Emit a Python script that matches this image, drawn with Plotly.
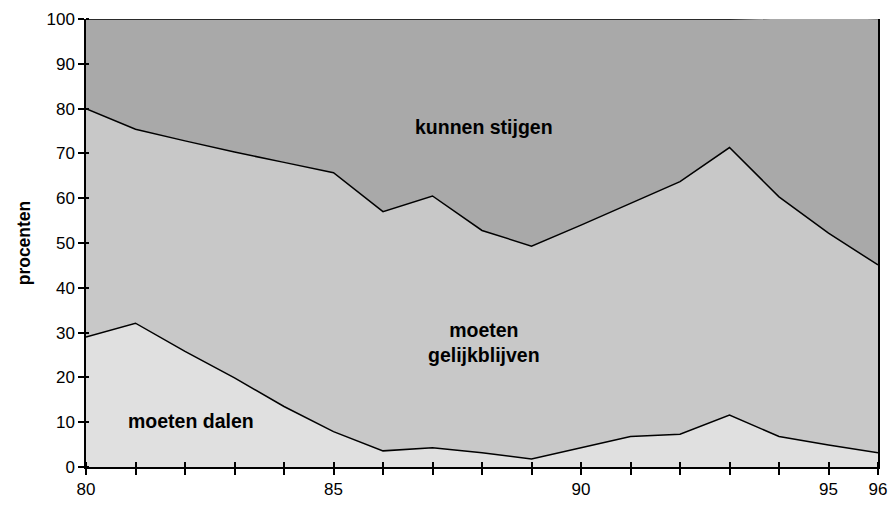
import plotly.graph_objects as go

years = list(range(80, 97))
moeten_dalen = [29.0, 32.1, 25.8, 19.9, 13.5, 7.9, 3.6, 4.3, 3.2, 1.8, 4.3, 6.8, 7.3, 11.6, 6.8, 4.9, 3.2]
moeten_gelijkblijven = [51.0, 43.3, 47.0, 50.4, 54.5, 57.8, 53.4, 56.2, 49.6, 47.5, 49.7, 52.0, 56.4, 59.7, 53.5, 47.3, 41.9]
kunnen_stijgen = [20.0, 24.6, 27.2, 29.7, 32.0, 34.3, 43.0, 39.5, 47.2, 50.7, 46.0, 41.2, 36.3, 28.7, 39.9, 48.2, 55.0]

tick_years = list(range(80, 97))
tick_labels = ["80", "", "", "", "", "85", "", "", "", "", "90", "", "", "", "", "95", "96"]
y_ticks = list(range(0, 101, 10))

FONT = "Liberation Sans, Arial, sans-serif"
EPS = 1e-4  # tiny shift so inside (minor) ticks are not merged with the outside ones

fig = go.Figure()
series = [
    ("moeten dalen", moeten_dalen, "#e0e0e0"),
    ("moeten gelijkblijven", moeten_gelijkblijven, "#c8c8c8"),
    ("kunnen stijgen", kunnen_stijgen, "#a9a9a9"),
]
for name, vals, col in series:
    fig.add_trace(go.Scatter(
        x=years, y=vals, name=name, mode="lines", stackgroup="one",
        line=dict(color="black", width=1.5), fillcolor=col,
        hoverinfo="skip",
    ))

fig.update_layout(
    width=893, height=505,
    margin=dict(l=86, r=15, t=19, b=38, autoexpand=False),
    paper_bgcolor="white", plot_bgcolor="white",
    showlegend=False,
    font=dict(family=FONT, size=17, color="black"),
    xaxis=dict(range=[80, 96], tickvals=tick_years, ticktext=tick_labels,
               ticks="outside", ticklen=6, tickwidth=1.5, tickcolor="black",
               minor=dict(tickmode="array", tickvals=[v + EPS for v in tick_years],
                          ticks="inside", ticklen=5, tickwidth=1.5, tickcolor="black"),
               showline=True, linecolor="black", linewidth=1.5, layer="above traces",
               showgrid=False, zeroline=False, tickfont=dict(size=17), automargin=False,
               ticklabeloverflow="allow"),
    yaxis=dict(range=[0, 100], tickvals=y_ticks, ticks="outside", ticklen=6,
               tickwidth=1.5, tickcolor="black", showline=True,
               minor=dict(tickmode="array", tickvals=[v + EPS for v in y_ticks],
                          ticks="inside", ticklen=3, tickwidth=1.5, tickcolor="black"),
               linecolor="black", linewidth=1.5, mirror=True, layer="above traces",
               showgrid=False, zeroline=False, tickfont=dict(size=17), automargin=False,
               ticklabeloverflow="allow",
               title=dict(text="<b>procenten</b>", font=dict(size=17.5), standoff=11)),
)

annots = [
    (88.05, 75.9, "<b>kunnen stijgen</b>"),
    (88.05, 27.8, "<b>moeten<br>gelijkblijven</b>"),
    (82.12, 10.3, "<b>moeten dalen</b>"),
]
for x, y, t in annots:
    fig.add_annotation(x=x, y=y, text=t, showarrow=False,
                       font=dict(size=19.5, family=FONT, color="black"))

# remove the default page margin so the figure fills the window exactly
fig.write_html("out.html", config={"displayModeBar": False},
               post_script="document.body.style.margin='0px';document.body.style.overflow='hidden';")
